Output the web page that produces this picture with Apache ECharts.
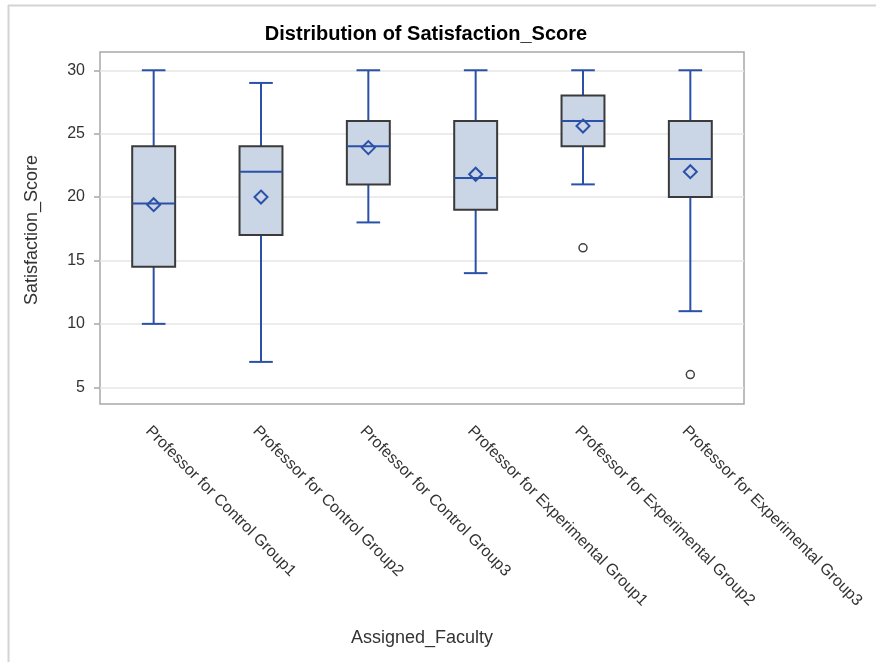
<!DOCTYPE html>
<html>
<head>
<meta charset="utf-8">
<script src="https://cdn.jsdelivr.net/npm/echarts@6/dist/echarts.min.js"></script>
<style>
html,body{margin:0;padding:0;background:#fff;}
#chart{width:876px;height:662px;}
</style>
</head>
<body>
<div id="chart"></div>
<script>
const categories = [
  'Professor for Control Group1',
  'Professor for Control Group2',
  'Professor for Control Group3',
  'Professor for Experimental Group1',
  'Professor for Experimental Group2',
  'Professor for Experimental Group3'
];
const whiskerLow  = [10, 7, 18, 14, 21, 11];
const q1          = [14.5, 17, 21, 19, 24, 20];
const medians     = [19.5, 22, 24, 21.5, 26, 23];
const q3          = [24, 24, 26, 26, 28, 26];
const whiskerHigh = [30, 29, 30, 30, 30, 30];
const means       = [19.4, 20, 23.9, 21.8, 25.6, 22];
const outliers    = [[4, 16], [5, 6]];
const yTicks      = [5, 10, 15, 20, 25, 30];

const FONT = '"Liberation Sans", Arial, sans-serif';
const BLUE = '#2B50A8';
const FILL = '#CAD5E5';
const EDGE = '#3A3A3A';

const boxData = categories.map((c, i) => [i, whiskerLow[i], q1[i], medians[i], q3[i], whiskerHigh[i], means[i]]);

function renderBox(params, api) {
  const i = api.value(0);
  const band = api.size([1, 0])[0];
  const hw = band * 0.2;
  const cw = band * 0.11;
  const pLow = api.coord([i, api.value(1)]);
  const pQ1 = api.coord([i, api.value(2)]);
  const pMed = api.coord([i, api.value(3)]);
  const pQ3 = api.coord([i, api.value(4)]);
  const pHigh = api.coord([i, api.value(5)]);
  const pMean = api.coord([i, api.value(6)]);
  const x = pQ1[0];
  const ls = {stroke: BLUE, lineWidth: 2};
  const d = 6.5;
  return {
    type: 'group',
    children: [
      {type: 'line', shape: {x1: x, y1: pHigh[1], x2: x, y2: pQ3[1]}, style: ls},
      {type: 'line', shape: {x1: x, y1: pQ1[1], x2: x, y2: pLow[1]}, style: ls},
      {type: 'line', shape: {x1: x - cw, y1: pHigh[1], x2: x + cw, y2: pHigh[1]}, style: ls},
      {type: 'line', shape: {x1: x - cw, y1: pLow[1], x2: x + cw, y2: pLow[1]}, style: ls},
      {type: 'rect', shape: {x: x - hw, y: pQ3[1], width: hw * 2, height: pQ1[1] - pQ3[1]},
        style: {fill: FILL, stroke: EDGE, lineWidth: 2}},
      {type: 'line', shape: {x1: x - hw, y1: pMed[1], x2: x + hw, y2: pMed[1]}, style: ls},
      {type: 'polygon', shape: {points: [[x, pMean[1] - d], [x + d, pMean[1]], [x, pMean[1] + d], [x - d, pMean[1]]]},
        style: {fill: 'none', stroke: BLUE, lineWidth: 2}}
    ]
  };
}

const chart = echarts.init(document.getElementById('chart'));
chart.setOption({
  animation: false,
  backgroundColor: '#fff',
  title: {
    text: 'Distribution of Satisfaction_Score',
    left: 421, top: 19, textAlign: 'center',
    textStyle: {fontFamily: FONT, fontWeight: 'bold', fontSize: 20, color: '#000'}
  },
  graphic: [
    {type: 'line', shape: {x1: 8, y1: 5.5, x2: 876, y2: 5.5}, style: {stroke: '#D4D4D4', lineWidth: 2}},
    {type: 'line', shape: {x1: 8.5, y1: 5, x2: 8.5, y2: 662}, style: {stroke: '#D4D4D4', lineWidth: 2}},
    {type: 'text', x: 23, y: 230, rotation: Math.PI / 2,
      style: {text: 'Satisfaction_Score', font: '18px ' + FONT, fill: '#333', align: 'center', verticalAlign: 'top'}}
  ],
  grid: {left: 100, top: 52, width: 644, height: 352, show: true, borderColor: '#A8A8A8', borderWidth: 1.5, backgroundColor: 'transparent'},
  xAxis: {
    type: 'category',
    data: categories,
    boundaryGap: true,
    name: 'Assigned_Faculty',
    nameLocation: 'middle',
    nameGap: 225,
    nameTextStyle: {fontFamily: FONT, fontSize: 18, color: '#333'},
    axisLine: {show: false},
    axisTick: {alignWithLabel: true, length: 6, lineStyle: {color: '#A8A8A8', width: 1.5}},
    axisLabel: {rotate: -45, fontFamily: FONT, fontSize: 16, color: '#333', margin: 19, verticalAlign: 'top', interval: 0},
    splitLine: {show: false}
  },
  yAxis: {
    type: 'value',
    min: 3.68, max: 31.44,
    axisLine: {show: false},
    axisTick: {show: true, length: 6, customValues: yTicks, lineStyle: {color: '#A8A8A8', width: 1.5}},
    axisLabel: {customValues: yTicks, fontFamily: FONT, fontSize: 16, color: '#333', margin: 15},
    splitLine: {show: true, lineStyle: {color: '#E6E6E6', width: 1.5}}
  },
  series: [
    {type: 'custom', renderItem: renderBox, data: boxData, encode: {x: 0, y: [1, 2, 3, 4, 5, 6]}, z: 3},
    {type: 'scatter', data: outliers, symbol: 'circle', symbolSize: 8,
      itemStyle: {color: 'rgba(255,255,255,0)', borderColor: '#111', borderWidth: 1.5}, z: 4}
  ]
});
</script>
</body>
</html>
